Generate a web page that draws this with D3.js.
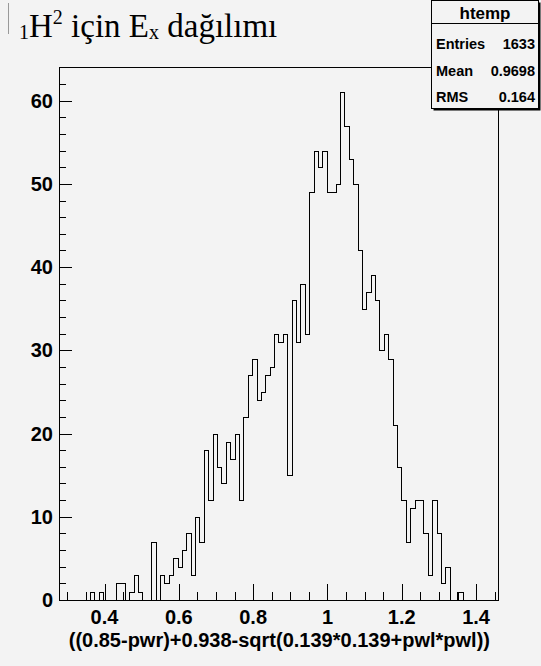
<!DOCTYPE html>
<html>
<head>
<meta charset="utf-8">
<script src="https://cdn.jsdelivr.net/npm/d3@7"></script>
<style>
  html, body { margin: 0; padding: 0; background: #f3f3f3; }
  svg { display: block; }
</style>
</head>
<body>
<svg id="chart" width="541" height="666"></svg>
<script>
// ---- data ----
const xMin = 0.2775;
const xMax = 1.459;
const binCounts = [
  0,0,0,0,0,0,0,1,0,1,
  0,0,0,2,2,0,1,3,1,0,
  0,7,0,3,2,3,5,4,6,8,
  3,10,7,18,12,20,16,14,19,17,
  20,12,22,27,29,24,25,27,28,32,
  31,32,15,36,31,38,32,49,54,52,
  54,49,49,50,61,57,53,50,42,35,
  37,39,36,30,32,29,21,16,12,7,
  11,12,12,8,3,12,8,2,4,0,
  0,1,0,0,0,0,0,0,0,0
];
const xTickLabels = [0.4, 0.6, 0.8, 1, 1.2, 1.4];
const yTickLabels = [0, 10, 20, 30, 40, 50, 60];
const statNames = ["Entries", "Mean", "RMS"];
const statValues = ["1633", "0.9698", "0.164"];
const histName = "htemp";
const xTitle = "((0.85-pwr)+0.938-sqrt(0.139*0.139+pwl*pwl))";

// ---- layout ----
const frame = { left: 59, right: 498, top: 67, bottom: 600 };
const svg = d3.select("#chart");
const sans = "'Liberation Sans', Arial, sans-serif";
const serif = "'Liberation Serif', 'Times New Roman', serif";

svg.append("rect").attr("width", 541).attr("height", 666).attr("fill", "#f3f3f3");

const nBins = binCounts.length;
const binW = (xMax - xMin) / nBins;
const yMax = d3.max(binCounts) * 1.05;

const x = d3.scaleLinear().domain([xMin, xMax]).range([frame.left, frame.right]);
const y = d3.scaleLinear().domain([0, yMax]).range([frame.bottom, frame.top]);

// frame
svg.append("rect")
  .attr("x", frame.left + 0.5).attr("y", frame.top + 0.5)
  .attr("width", frame.right - frame.left).attr("height", frame.bottom - frame.top)
  .attr("fill", "none").attr("stroke", "#000").attr("stroke-width", 1)
  .attr("shape-rendering", "crispEdges");

// histogram outline
const pts = [[x(xMin), y(0)]];
binCounts.forEach((c, i) => {
  const x0 = x(xMin + i * binW), x1 = x(xMin + (i + 1) * binW);
  pts.push([x0, y(c)]);
  pts.push([x1, y(c)]);
});
pts.push([x(xMax), y(0)]);
svg.append("path")
  .attr("d", d3.line()(pts.map(p => [Math.round(p[0]) + 0.5, Math.round(p[1]) + 0.5])))
  .attr("fill", "none").attr("stroke", "#000").attr("stroke-width", 1)
  .attr("shape-rendering", "crispEdges");

// x ticks (inside, upward)
const xMinor = d3.range(0.3, 1.4501, 0.05);
const xAxisG = svg.append("g");
xMinor.forEach(v => {
  const isMajor = xTickLabels.some(t => Math.abs(t - v) < 1e-6);
  const px = Math.round(x(v)) + 0.5;
  xAxisG.append("line")
    .attr("x1", px).attr("x2", px)
    .attr("y1", frame.bottom).attr("y2", frame.bottom - (isMajor ? 16 : 8))
    .attr("stroke", "#000").attr("shape-rendering", "crispEdges");
});
xTickLabels.forEach(v => {
  xAxisG.append("text")
    .attr("x", x(v)).attr("y", 624)
    .attr("text-anchor", "middle")
    .attr("font-family", sans).attr("font-weight", "bold").attr("font-size", 20)
    .attr("fill", "#000")
    .text(d3.format("")(v));
});

// y ticks (inside, rightward)
const yMinor = d3.range(0, 64.01, 2);
const yAxisG = svg.append("g");
yMinor.forEach(v => {
  const isMajor = v % 10 === 0;
  const py = Math.round(y(v)) + 0.5;
  yAxisG.append("line")
    .attr("x1", frame.left).attr("x2", frame.left + (isMajor ? 13 : 7))
    .attr("y1", py).attr("y2", py)
    .attr("stroke", "#000").attr("shape-rendering", "crispEdges");
});
yTickLabels.forEach(v => {
  yAxisG.append("text")
    .attr("x", 53).attr("y", y(v) + 7)
    .attr("text-anchor", "end")
    .attr("font-family", sans).attr("font-weight", "bold").attr("font-size", 20)
    .attr("fill", "#000")
    .text(v);
});

// x axis title
svg.append("text")
  .attr("x", 490).attr("y", 647)
  .attr("text-anchor", "end")
  .attr("font-family", sans).attr("font-weight", "bold").attr("font-size", 20)
  .attr("fill", "#000")
  .text(xTitle);

// title
svg.append("line")
  .attr("x1", 8.5).attr("x2", 8.5).attr("y1", 3).attr("y2", 34)
  .attr("stroke", "#999");
const title = svg.append("text")
  .attr("x", 19).attr("y", 37)
  .attr("font-family", serif).attr("font-size", 33).attr("fill", "#000");
title.append("tspan").attr("font-size", 20).attr("dy", 2).text("1");
title.append("tspan").attr("dy", -2).text("H");
title.append("tspan").attr("font-size", 20).attr("dy", -13).text("2");
title.append("tspan").attr("dy", 13).text(" için E");
title.append("tspan").attr("font-size", 20).attr("dy", 2).text("x");
title.append("tspan").attr("dy", -2).text(" dağılımı");

// stats box
const sb = { x: 431.5, y: 0.5, w: 107, h: 108 };
svg.append("rect")
  .attr("x", sb.x + 2).attr("y", sb.y + 2).attr("width", sb.w).attr("height", sb.h)
  .attr("fill", "#000");
svg.append("rect")
  .attr("x", sb.x).attr("y", sb.y).attr("width", sb.w).attr("height", sb.h)
  .attr("fill", "#f3f3f3").attr("stroke", "#000").attr("stroke-width", 1);
svg.append("line")
  .attr("x1", sb.x).attr("x2", sb.x + sb.w)
  .attr("y1", 23.5).attr("y2", 23.5)
  .attr("stroke", "#000");
svg.append("text")
  .attr("x", sb.x + sb.w / 2).attr("y", 19)
  .attr("text-anchor", "middle")
  .attr("font-family", sans).attr("font-weight", "bold").attr("font-size", 17)
  .text(histName);
const rowY = [49, 75.5, 101.5];
statNames.forEach((n, i) => {
  svg.append("text")
    .attr("x", 436).attr("y", rowY[i])
    .attr("font-family", sans).attr("font-weight", "bold").attr("font-size", 14.5)
    .text(n);
  svg.append("text")
    .attr("x", 535).attr("y", rowY[i])
    .attr("text-anchor", "end")
    .attr("font-family", sans).attr("font-weight", "bold").attr("font-size", 14.5)
    .text(statValues[i]);
});
</script>
</body>
</html>
